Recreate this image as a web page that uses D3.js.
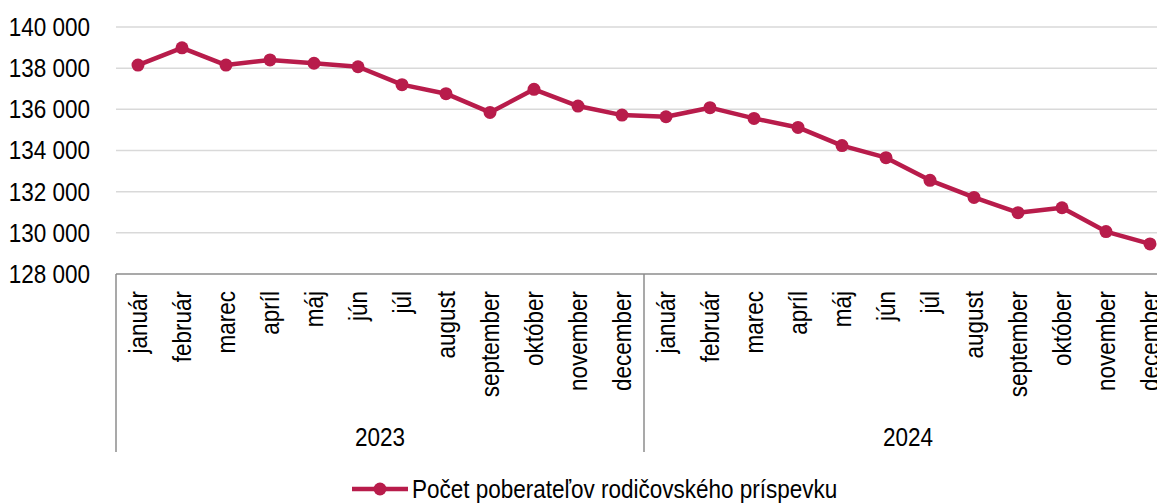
<!DOCTYPE html>
<html>
<head>
<meta charset="utf-8">
<script src="https://cdn.jsdelivr.net/npm/d3@7"></script>
<style>
  body { margin: 0; background: #fff; }
  text { font-family: "Liberation Sans Narrow", "Arial Narrow", "Liberation Sans", sans-serif; fill: #000; }
</style>
</head>
<body>
<div class="chart"></div>
<script>
const years = ["2023", "2024"];
const months = ["január", "február", "marec", "apríl", "máj", "jún", "júl", "august", "september", "október", "november", "december"];
const values = [138150, 138990, 138150, 138400, 138240, 138070, 137200, 136760, 135850, 136970, 136160, 135720,
                135640, 136080, 135560, 135120, 134240, 133650, 132550, 131720, 130980, 131220, 130060, 129460];
const yTicks = [128000, 130000, 132000, 134000, 136000, 138000, 140000];
const seriesName = "Počet poberateľov rodičovského príspevku";

const W = 1157, H = 503;
const margin = ({top: 27, left: 116});
const plotRight = 1172;   // the plot runs past the window's right edge, as in the source
const plotBottom = 274;
const color = "#b81c4b";
const squeeze = "scale(0.9,1)";   // narrow look of the original font

const cats = [];
years.forEach(y => months.forEach(m => cats.push(y + "|" + m)));
const data = values.map((v, i) => ({key: cats[i], value: v}));

const svg = d3.select('.chart').append('svg')
    .attr("width", W)
    .attr("height", H);

const xScale = d3.scaleBand()
    .domain(cats)
    .range([margin.left, plotRight]);

const yScale = d3.scaleLinear()
    .domain([128000, 140000])
    .range([plotBottom, margin.top]);

const fmt = d => d3.format(",")(d).replace(/,/g, " ");

// grid
svg.append("g")
    .selectAll("line")
    .data(yTicks.filter(d => d > 128000))
    .join("line")
    .attr("x1", margin.left)
    .attr("x2", W)
    .attr("y1", d => yScale(d))
    .attr("y2", d => yScale(d))
    .attr("stroke", "#d9d9d9")
    .attr("stroke-width", 1.5);

// y labels
svg.append("g")
    .selectAll("text")
    .data(yTicks)
    .join("text")
    .attr("transform", d => `translate(90, ${yScale(d)}) ${squeeze}`)
    .attr("text-anchor", "end")
    .attr("dominant-baseline", "central")
    .attr("font-size", "25px")
    .text(fmt);

// x axis line
svg.append("line")
    .attr("x1", margin.left)
    .attr("x2", W)
    .attr("y1", plotBottom)
    .attr("y2", plotBottom)
    .attr("stroke", "#8c8c8c")
    .attr("stroke-width", 1.5);

// year separators
const bw = xScale.bandwidth();
const sep = [0, 12, 24].map(i => margin.left + i * bw);
svg.append("g")
    .selectAll("line")
    .data(sep)
    .join("line")
    .attr("x1", d => d)
    .attr("x2", d => d)
    .attr("y1", plotBottom)
    .attr("y2", 452)
    .attr("stroke", "#8c8c8c")
    .attr("stroke-width", 1.5);

// month labels
svg.append("g")
    .selectAll("text")
    .data(cats)
    .join("text")
    .attr("transform", d => `translate(${xScale(d) + bw / 2}, 291) rotate(-90) ${squeeze}`)
    .attr("text-anchor", "end")
    .attr("dominant-baseline", "central")
    .attr("font-size", "25px")
    .text(d => d.split("|")[1]);

// year labels
svg.append("g")
    .selectAll("text")
    .data(years)
    .join("text")
    .attr("transform", (d, i) => `translate(${margin.left + (i * 12 + 6) * bw}, 437) ${squeeze}`)
    .attr("text-anchor", "middle")
    .attr("dominant-baseline", "central")
    .attr("font-size", "25px")
    .text(d => d);

// line + markers
const line = d3.line()
    .x(d => xScale(d.key) + bw / 2)
    .y(d => yScale(d.value));

svg.append("path")
    .datum(data)
    .attr("d", line)
    .attr("fill", "none")
    .attr("stroke", color)
    .attr("stroke-width", 4.5)
    .attr("stroke-linejoin", "round");

svg.append("g")
    .selectAll("circle")
    .data(data)
    .join("circle")
    .attr("cx", d => xScale(d.key) + bw / 2)
    .attr("cy", d => yScale(d.value))
    .attr("r", 6.5)
    .attr("fill", color);

// legend
const lg = svg.append("g").attr("transform", "translate(352, 489)");
lg.append("line")
    .attr("x1", 0).attr("x2", 56)
    .attr("stroke", color).attr("stroke-width", 4.5);
lg.append("circle")
    .attr("cx", 28).attr("r", 6.5).attr("fill", color);
lg.append("text")
    .attr("transform", `translate(60, 0) ${squeeze}`)
    .attr("dominant-baseline", "central")
    .attr("font-size", "25px")
    .text(seriesName);
</script>
</body>
</html>
